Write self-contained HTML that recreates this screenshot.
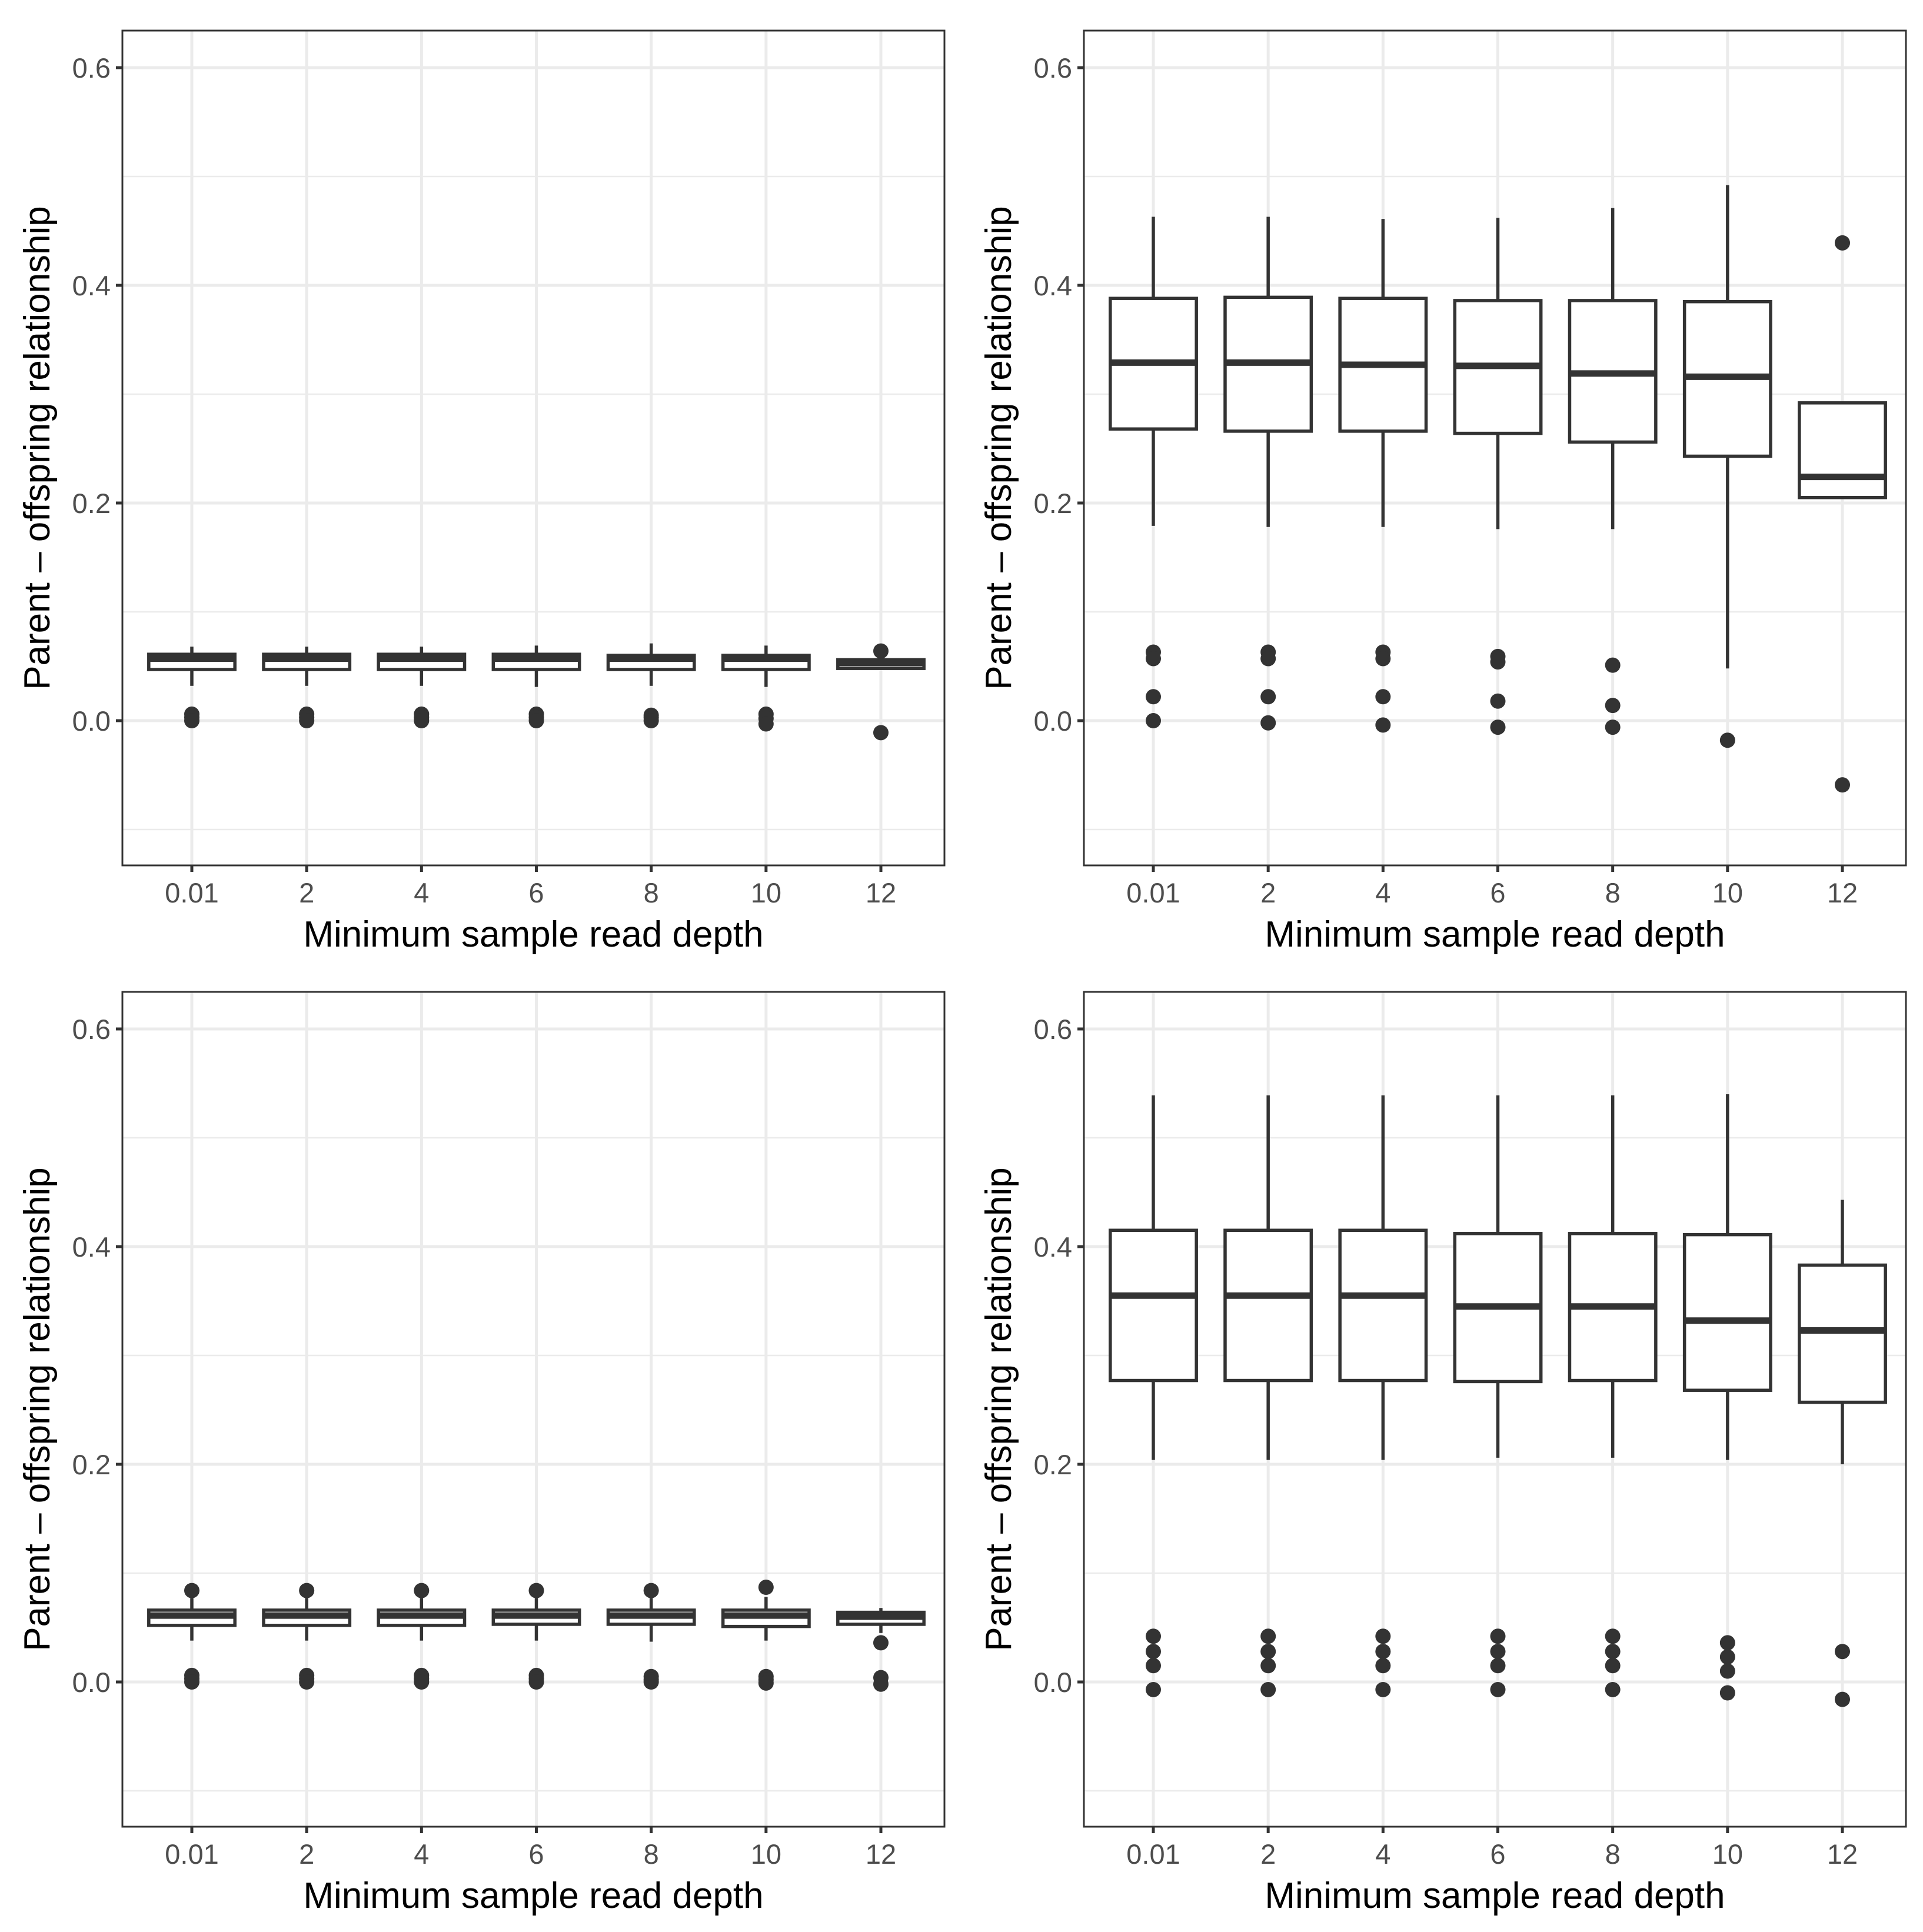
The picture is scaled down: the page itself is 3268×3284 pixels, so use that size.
<!DOCTYPE html>
<html><head><meta charset="utf-8"><style>
html,body{margin:0;padding:0;background:#fff}
svg{display:block}
text{font-family:"Liberation Sans",Arial,sans-serif}
</style></head><body>
<svg id="chart" width="3268" height="3284" viewBox="0 0 3268 3284" xmlns="http://www.w3.org/2000/svg">
<rect x="0" y="0" width="3268" height="3284" fill="#fff"/>
</svg>
<script>
const categories = ["0.01","2","4","6","8","10","12"];
const yTicks = [0, 0.2, 0.4, 0.6];
const yTickLabels = ["0.0","0.2","0.4","0.6"];
const yMinor = [-0.1, 0.1, 0.3, 0.5];

// panel A (top-left)
const aLow = [0.032,0.032,0.032,0.031,0.032,0.031,0.048];
const aQ1 = [0.047,0.047,0.047,0.047,0.047,0.047,0.048];
const aMed = [0.057,0.057,0.057,0.057,0.057,0.057,0.053];
const aQ3 = [0.061,0.061,0.061,0.061,0.060,0.060,0.056];
const aHigh = [0.068,0.068,0.068,0.069,0.071,0.069,0.056];
const aOut = [[0.006,0.003,0],[0.006,0.003,0],[0.006,0.003,0],[0.006,0.003,0],[0.005,0.003,0],[0.006,0.002,-0.003],[0.064,-0.011]];

// panel B (top-right)
const bLow = [0.179,0.178,0.178,0.176,0.176,0.048,0.205];
const bQ1 = [0.268,0.266,0.266,0.264,0.256,0.243,0.205];
const bMed = [0.329,0.329,0.327,0.326,0.319,0.316,0.224];
const bQ3 = [0.388,0.389,0.388,0.386,0.386,0.385,0.292];
const bHigh = [0.463,0.463,0.461,0.462,0.471,0.492,0.292];
const bOut = [[0.063,0.057,0.022,0],[0.063,0.057,0.022,-0.002],[0.063,0.057,0.022,-0.004],[0.059,0.054,0.018,-0.006],[0.051,0.014,-0.006],[-0.018],[0.439,-0.059]];

// panel C (bottom-left)
const cLow = [0.038,0.038,0.038,0.038,0.037,0.038,0.045];
const cQ1 = [0.052,0.052,0.052,0.053,0.053,0.051,0.053];
const cMed = [0.061,0.061,0.061,0.061,0.061,0.061,0.060];
const cQ3 = [0.066,0.066,0.066,0.066,0.066,0.066,0.064];
const cHigh = [0.077,0.077,0.077,0.077,0.077,0.078,0.068];
const cOut = [[0.084,0.006,0.003,0],[0.084,0.006,0.003,0],[0.084,0.006,0.003,0],[0.084,0.006,0.003,0],[0.084,0.005,0.002,0],[0.087,0.005,0.002,-0.001],[0.036,0.004,-0.002]];

// panel D (bottom-right)
const dLow = [0.204,0.204,0.204,0.206,0.206,0.204,0.200];
const dQ1 = [0.277,0.277,0.277,0.276,0.277,0.268,0.257];
const dMed = [0.355,0.355,0.355,0.345,0.345,0.332,0.323];
const dQ3 = [0.415,0.415,0.415,0.412,0.412,0.411,0.383];
const dHigh = [0.539,0.539,0.539,0.539,0.539,0.540,0.443];
const dOut = [[0.042,0.028,0.015,-0.007],[0.042,0.028,0.015,-0.007],[0.042,0.028,0.015,-0.007],[0.042,0.028,0.015,-0.007],[0.042,0.028,0.015,-0.007],[0.036,0.023,0.010,-0.010],[0.028,-0.016]];

const NS = "http://www.w3.org/2000/svg";
const svg = document.getElementById("chart");
function mk(tag, attrs, parent){
  const e = document.createElementNS(NS, tag);
  for (const k in attrs) e.setAttribute(k, attrs[k]);
  (parent||svg).appendChild(e);
  return e;
}

function drawPanel(name, dx, dy, low, q1, med, q3, high, outs){
  const g = mk("g", {});
  
  
  const L = 208+dx, R = 1605+dx, T = 52+dy, B = 1471+dy;
  const y0 = 1225+dy, ppu = 1850;
  const yS = v => y0 - v*ppu;
  const x0 = 326+dx, step = (1497-326)/6;
  const xS = i => x0 + i*step;
  const bw = step*0.75;

  const grid = mk("g", {}, g);
  
  
  yMinor.forEach(v => mk("line",{x1:L,x2:R,y1:yS(v),y2:yS(v),stroke:"#ebebeb","stroke-width":2.6},grid));
  yTicks.forEach(v => mk("line",{x1:L,x2:R,y1:yS(v),y2:yS(v),stroke:"#ebebeb","stroke-width":5},grid));
  categories.forEach((c,i) => mk("line",{x1:xS(i),x2:xS(i),y1:T,y2:B,stroke:"#ebebeb","stroke-width":5},grid));

  categories.forEach((c,i) => {
    const bx = mk("g", {}, g);
    
    
    const x = xS(i);
    mk("line",{x1:x,x2:x,y1:yS(q3[i]),y2:yS(high[i]),stroke:"#333","stroke-width":5.5},bx);
    mk("line",{x1:x,x2:x,y1:yS(q1[i]),y2:yS(low[i]),stroke:"#333","stroke-width":5.5},bx);
    mk("rect",{x:x-bw/2,y:yS(q3[i]),width:bw,height:Math.max(0.5,yS(q1[i])-yS(q3[i])),fill:"#fff",stroke:"#333","stroke-width":5.5},bx);
    mk("line",{x1:x-bw/2,x2:x+bw/2,y1:yS(med[i]),y2:yS(med[i]),stroke:"#333","stroke-width":11},bx);
    outs[i].forEach(v => {
      const p = mk("circle",{cx:x,cy:yS(v),r:13,fill:"#333"},bx);
      
      
    });
  });

  const border = mk("rect",{x:L,y:T,width:R-L,height:B-T,fill:"none",stroke:"#333","stroke-width":3},g);
  
  

  const ya = mk("g", {}, g);
  
  
  yTicks.forEach((v,k) => {
    mk("line",{x1:L-11,x2:L,y1:yS(v),y2:yS(v),stroke:"#333","stroke-width":5},ya);
    const t = mk("text",{x:L-20,y:yS(v)+17,"text-anchor":"end","font-size":47,fill:"#4d4d4d"},ya);
    t.textContent = yTickLabels[k];
  });
  const xa = mk("g", {}, g);
  
  
  categories.forEach((c,i) => {
    mk("line",{x1:xS(i),x2:xS(i),y1:B,y2:B+11,stroke:"#333","stroke-width":5},xa);
    const t = mk("text",{x:xS(i),y:B+63,"text-anchor":"middle","font-size":47,fill:"#4d4d4d"},xa);
    t.textContent = c;
  });
  const xt = mk("text",{x:(L+R)/2,y:B+138,"text-anchor":"middle","font-size":62,fill:"#000"},g);
  
  
  xt.textContent = "Minimum sample read depth";
  const cy = (T+B)/2, cx = 84+dx;
  const yt = mk("text",{x:cx,y:cy,"text-anchor":"middle","font-size":62,fill:"#000",transform:`rotate(-90 ${cx} ${cy})`},g);
  
  
  yt.textContent = "Parent \u2013 offspring relationship";
}

drawPanel("panel-top-left", 0, 0, aLow, aQ1, aMed, aQ3, aHigh, aOut);
drawPanel("panel-top-right", 1634, 0, bLow, bQ1, bMed, bQ3, bHigh, bOut);
drawPanel("panel-bottom-left", 0, 1634, cLow, cQ1, cMed, cQ3, cHigh, cOut);
drawPanel("panel-bottom-right", 1634, 1634, dLow, dQ1, dMed, dQ3, dHigh, dOut);
</script>
</body></html>
